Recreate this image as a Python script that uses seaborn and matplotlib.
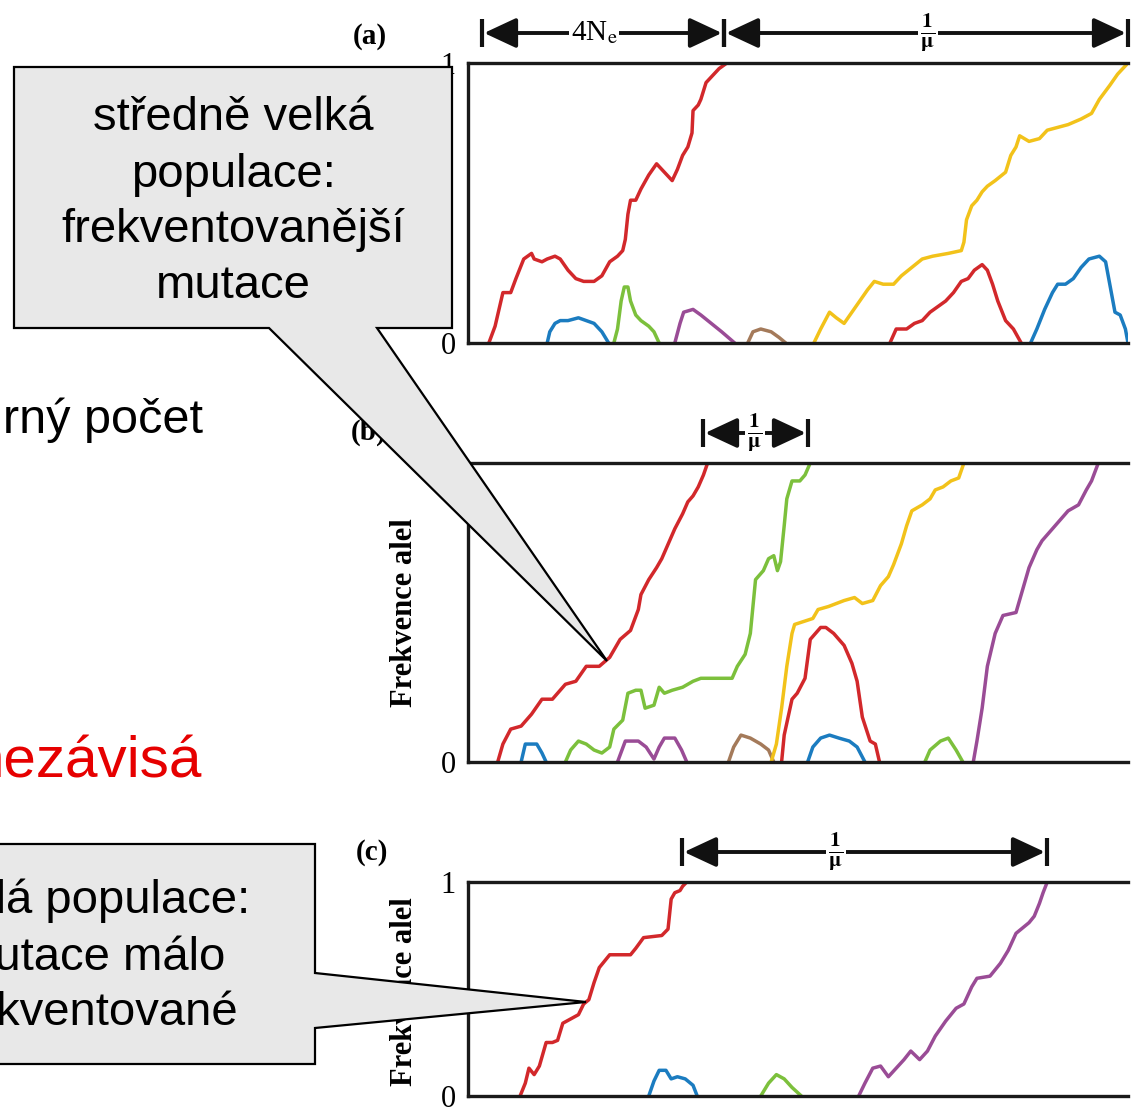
import matplotlib
matplotlib.use("Agg")
import matplotlib.pyplot as plt
import pandas as pd
import seaborn as sns
from matplotlib.patches import Polygon

# ---------------- data (t = generations in arbitrary units, f = allele frequency) ----------------
A_RED1 = [(40,0),(52,.06),(67,.18),(82,.18),(92,.23),(107,.30),(122,.32),(127,.30),(142,.29),(152,.30),
          (167,.31),(177,.30),(192,.26),(207,.23),(222,.22),(242,.22),(257,.24),(272,.29),(287,.31),(297,.33),
          (302,.37),(307,.46),(312,.51),(322,.51),(332,.55),(347,.60),(362,.64),(377,.61),(392,.58),(402,.62),
          (412,.67),(422,.70),(430,.75),(432,.83),(442,.85),(447,.87),(457,.93),(467,.95),(482,.98),(497,1.0)]
A_BLUE1 = [(152,0),(157,.04),(167,.07),(177,.08),(192,.08),(212,.09),(227,.08),(242,.07),(257,.04),(270,0)]
A_GREEN = [(280,0),(287,.05),(294,.15),(300,.20),(307,.20),(312,.15),(322,.10),(332,.08),(347,.06),(357,.04),(367,0)]
A_PURPLE = [(397,0),(407,.07),(414,.11),(432,.12),(447,.10),(467,.07),(487,.04),(512,0)]
A_BROWN = [(537,0),(547,.04),(562,.05),(582,.04),(597,.02),(610,0)]
A_YELLOW = [(664,0),(677,.05),(694,.11),(707,.09),(722,.07),(737,.11),(752,.15),(767,.19),(780,.22),(797,.21),
            (817,.21),(832,.24),(852,.27),(872,.30),(892,.31),(922,.32),(947,.33),(952,.36),(957,.44),(967,.49),
            (977,.51),(987,.54),(997,.56),(1012,.58),(1032,.61),(1042,.67),(1052,.70),(1059,.74),(1077,.72),(1097,.73),
            (1112,.76),(1132,.77),(1152,.78),(1177,.80),(1197,.82),(1212,.87),(1232,.92),(1247,.96),(1262,.99),(1267,1.0)]
A_RED2 = [(810,0),(822,.05),(842,.05),(857,.07),(872,.08),(887,.11),(902,.13),(917,.15),(932,.18),(947,.22),
          (960,.23),(972,.26),(987,.28),(997,.26),(1007,.21),(1017,.15),(1032,.08),(1047,.05),(1062,0)]
A_BLUE2 = [(1080,0),(1092,.05),(1107,.12),(1122,.18),(1132,.21),(1147,.21),(1162,.23),(1177,.27),(1192,.30),(1212,.31),
           (1224,.29),(1232,.21),(1242,.11),(1252,.10),(1262,.05),(1267,0)]

B_RED1 = [(57,0),(67,.06),(82,.11),(102,.12),(122,.16),(142,.21),(162,.21),(187,.26),(207,.27),(227,.32),
          (252,.32),(272,.35),(292,.41),(312,.44),(327,.51),(332,.56),(347,.61),(362,.65),(372,.68),(387,.74),
          (397,.78),(412,.83),(422,.87),(432,.89),(442,.92),(452,.96),(460,1.0)]
B_BLUE1 = [(102,0),(110,.06),(132,.06),(142,.03),(150,0)]
B_GREEN1 = [(187,0),(197,.04),(212,.07),(227,.06),(242,.04),(257,.03),(272,.05),(280,.11),(297,.14),(307,.23),
            (322,.24),(332,.24),(340,.18),(357,.19),(367,.25),(377,.23),(392,.24),(412,.25),(432,.27),(447,.28),
            (472,.28),(507,.28),(517,.32),(532,.36),(542,.43),(547,.52),(552,.61),(567,.64),(577,.68),(587,.69),
            (594,.64),(600,.67),(607,.79),(612,.88),(622,.94),(637,.94),(647,.96),(657,1.0)]
B_PURPLE1 = [(287,0),(302,.07),(327,.07),(342,.05),(357,.01),(367,.05),(377,.08),(397,.08),(410,.04),(420,0)]
B_BROWN = [(500,0),(510,.05),(524,.09),(542,.08),(562,.06),(577,.04),(587,0)]
B_YELLOW = [(582,0),(592,.06),(602,.18),(612,.32),(622,.43),(627,.46),(662,.48),(672,.51),(692,.52),(722,.54),
            (742,.55),(757,.53),(777,.54),(792,.59),(807,.62),(817,.66),(832,.73),(842,.79),(852,.84),(872,.86),
            (887,.88),(897,.91),(912,.92),(927,.94),(942,.95),(952,1.0)]
B_RED2 = [(602,0),(607,.09),(622,.21),(632,.23),(647,.28),(657,.41),(677,.45),(687,.45),(702,.43),(722,.39),
          (737,.33),(747,.27),(757,.15),(772,.07),(782,.06),(790,0)]
B_BLUE2 = [(652,0),(662,.05),(677,.08),(694,.09),(712,.08),(732,.07),(747,.05),(762,0)]
B_GREEN2 = [(877,0),(887,.04),(907,.07),(922,.08),(937,.04),(950,0)]
B_PURPLE2 = [(970,0),(977,.07),(987,.18),(997,.32),(1012,.43),(1027,.49),(1052,.50),(1062,.56),(1077,.65),(1092,.71),
             (1102,.74),(1117,.77),(1132,.80),(1152,.84),(1172,.86),(1187,.91),(1197,.94),(1210,1.0)]

C_RED = [(100,0),(110,.06),(117,.13),(127,.10),(137,.14),(150,.25),(162,.25),(172,.26),(182,.34),(197,.36),
         (212,.38),(222,.43),(232,.45),(242,.53),(252,.60),(272,.66),(312,.66),(322,.69),(337,.74),(372,.75),
         (384,.78),(390,.92),(397,.95),(407,.96),(412,.98),(420,1.0)]
C_BLUE = [(347,0),(357,.07),(367,.12),(380,.12),(390,.08),(402,.09),(417,.08),(432,.05),(440,0)]
C_GREEN = [(562,0),(577,.06),(592,.10),(607,.08),(622,.04),(640,0)]
C_PURPLE = [(750,0),(762,.06),(777,.13),(792,.14),(807,.09),(822,.13),(837,.17),(850,.21),(867,.17),(882,.21),
            (897,.28),(917,.35),(937,.41),(952,.43),(967,.51),(977,.55),(1002,.56),(1022,.62),(1037,.68),(1052,.76),
            (1077,.81),(1087,.84),(1097,.90),(1104,.95),(1112,1.0)]

PANEL_A = {"a_red1": A_RED1, "a_blue1": A_BLUE1, "a_green": A_GREEN, "a_purple": A_PURPLE,
           "a_brown": A_BROWN, "a_yellow": A_YELLOW, "a_red2": A_RED2, "a_blue2": A_BLUE2}
PANEL_B = {"b_red1": B_RED1, "b_blue1": B_BLUE1, "b_green1": B_GREEN1, "b_purple1": B_PURPLE1,
           "b_brown": B_BROWN, "b_yellow": B_YELLOW, "b_red2": B_RED2, "b_blue2": B_BLUE2,
           "b_green2": B_GREEN2, "b_purple2": B_PURPLE2}
PANEL_C = {"c_red": C_RED, "c_blue": C_BLUE, "c_green": C_GREEN, "c_purple": C_PURPLE}

COLORS = {"red": "#d2282b", "blue": "#1b7cc0", "green": "#7cc03c", "purple": "#9a4c96",
          "brown": "#a47a5a", "yellow": "#f2c21a"}

CALLOUT1_LINES = ["středně velká", "populace:", "frekventovanější", "mutace"]
CALLOUT2_LINES = ["malá populace:", "mutace málo", "frekventované"]

# ---------------- styling ----------------
sns.set_theme(style="white")
plt.rcParams["font.family"] = ["Liberation Sans", "DejaVu Sans"]
plt.rcParams["mathtext.fontset"] = "stix"
plt.rcParams["text.color"] = "black"
SERIF = ["Liberation Serif", "DejaVu Serif"]

W, H = 1142, 1111
fig = plt.figure(figsize=(W / 100, H / 100), dpi=100)
fig.patch.set_facecolor("white")


def to_df(panel):
    rows = []
    for name, pts in panel.items():
        for t, f in pts:
            rows.append({"t": t, "f": f, "id": name})
    return pd.DataFrame(rows)


def palette_for(panel):
    pal = {}
    for name in panel:
        key = name.split("_")[1].rstrip("0123456789")
        pal[name] = COLORS[key]
    return pal


def make_panel(top, bottom, panel):
    ax = fig.add_axes([468 / W, (H - bottom) / H, 660 / W, (bottom - top) / H])
    df = to_df(panel)
    sns.lineplot(data=df, x="t", y="f", hue="id", palette=palette_for(panel),
                 estimator=None, sort=False, legend=False, lw=2.5, ax=ax)
    ax.set_xlim(0, 1267)
    ax.set_ylim(0, 1)
    ax.set_xticks([])
    ax.set_yticks([0, 1])
    ax.set_yticklabels(["0", "1"], fontfamily=SERIF, fontsize=22, color="black")
    ax.tick_params(axis="y", length=0, pad=9)
    ax.set_xlabel("")
    ax.set_ylabel("")
    ax.spines["right"].set_visible(False)
    for s in ["left", "top", "bottom"]:
        ax.spines[s].set_linewidth(2.4)
        ax.spines[s].set_color("#1a1a1a")
    ax.patch.set_alpha(0)
    return ax


ax_a = make_panel(63, 343, PANEL_A)
ax_b = make_panel(463, 762, PANEL_B)
ax_c = make_panel(882, 1096, PANEL_C)

# ---------------- overlay in pixel coordinates ----------------
ov = fig.add_axes([0, 0, 1, 1])
ov.set_xlim(0, W)
ov.set_ylim(H, 0)
ov.axis("off")

# panel letters and y labels
ov.text(370, 36, "(a)", fontfamily=SERIF, fontsize=21, fontweight="bold", ha="center", va="center")
ov.text(369, 432, "(b)", fontfamily=SERIF, fontsize=21, fontweight="bold", ha="center", va="center")
ov.text(372, 852, "(c)", fontfamily=SERIF, fontsize=21, fontweight="bold", ha="center", va="center")
ov.text(405, 613, "Frekvence alel", fontfamily=SERIF, fontsize=22, fontweight="bold",
        rotation=90, ha="center", va="center")
ov.text(405, 992, "Frekvence alel", fontfamily=SERIF, fontsize=22, fontweight="bold",
        rotation=90, ha="center", va="center")


def bracket(x0, x1, xl, y, label, half=14, fs=22):
    for xb in (x0, x1):
        ov.plot([xb, xb], [y - half, y + half], color="#111", lw=3, solid_capstyle="butt")
    for xb in (x0, x1):
        ov.annotate("", xy=(xb, y), xytext=(xl, y),
                    arrowprops=dict(arrowstyle="-|>,head_length=0.9,head_width=0.42",
                                    color="#111", lw=2.8, shrinkA=0, shrinkB=1.5,
                                    mutation_scale=22))
    ov.text(xl, y, label, ha="center", va="center", fontsize=fs, fontfamily=SERIF,
            bbox=dict(fc="white", ec="none", pad=1.5), zorder=5)


FRAC = r"$\mathbf{\frac{1}{\mu}}$"
bracket(482, 724, 594, 33, r"4N$_\mathrm{e}$", fs=21)
bracket(724, 1128, 928, 33, FRAC)
bracket(703, 808, 755, 433, FRAC)
bracket(682, 1047, 836, 852, FRAC)

# side text fragments of the slide (cut off by the slide edge in the original)
ov.text(203, 433, "rný počet", fontsize=35, ha="right", va="baseline", color="black")
ov.text(202, 777, "nezávisá", fontsize=42, ha="right", va="baseline", color="#e60000")

# callout 1
call1 = [(14, 67), (452, 67), (452, 328), (377, 328), (607, 661), (269, 328), (14, 328)]
ov.add_patch(Polygon(call1, closed=True, fc="#e8e8e8", ec="black", lw=1.6, zorder=10))
for yb, line in zip([130, 187, 242, 298], CALLOUT1_LINES):
    ov.text(233, yb, line, fontsize=34, ha="center", va="baseline", color="black", zorder=11)

# callout 2
call2 = [(-20, 844), (315, 844), (315, 973), (586, 1002), (315, 1028), (315, 1064), (-20, 1064)]
ov.add_patch(Polygon(call2, closed=True, fc="#e8e8e8", ec="black", lw=1.6, zorder=10))
for yb, line in zip([913, 970, 1025], CALLOUT2_LINES):
    ov.text(90, yb, line, fontsize=34, ha="center", va="baseline", color="black", zorder=11)

fig.savefig("out.png", dpi=100)
